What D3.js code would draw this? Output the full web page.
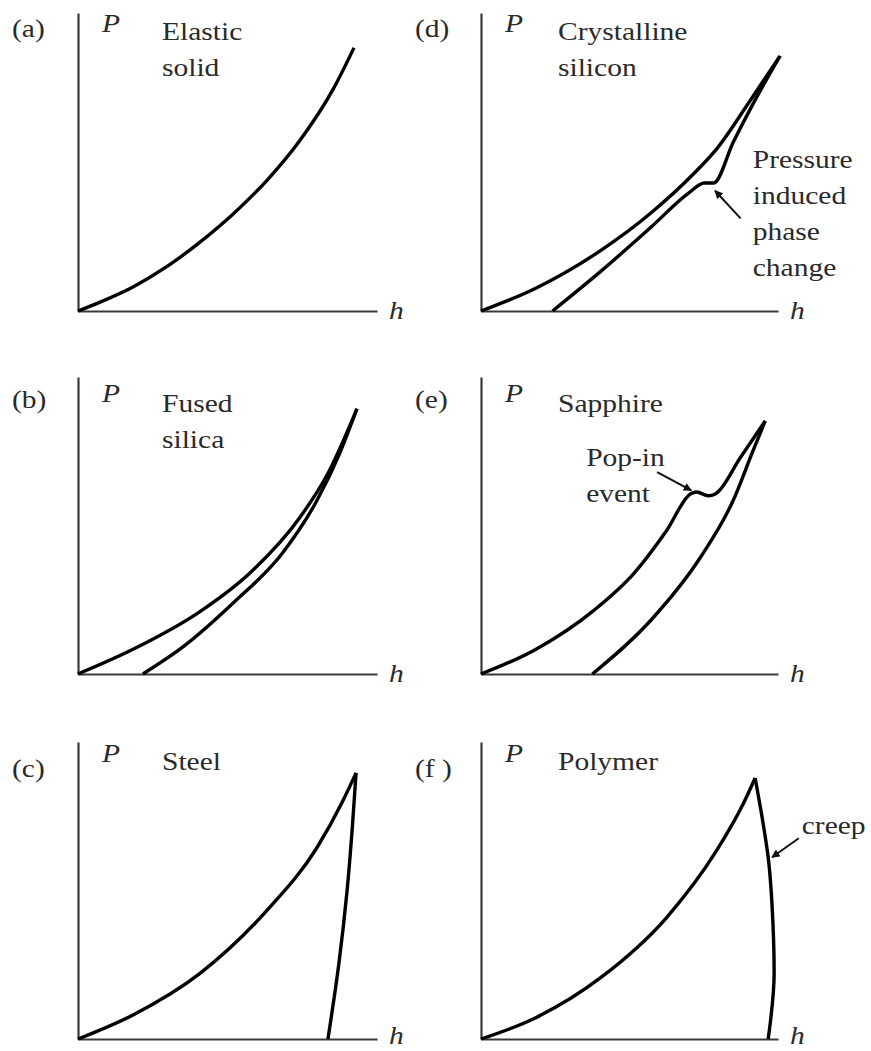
<!DOCTYPE html>
<html>
<head>
<meta charset="utf-8">
<script src="https://cdn.jsdelivr.net/npm/d3@7"></script>
<style>
  html, body { margin: 0; padding: 0; background: #fff; }
  svg { display: block; }
  .lbl { font-family: "Liberation Serif", "Times New Roman", serif; font-size: 26px; fill: #2a2a2a; }
  .it { font-style: italic; }
</style>
</head>
<body>
<svg id="chart" width="871" height="1051"></svg>
<script>
// Schematic load (P) – displacement (h) responses, normalised units (0..1 on both axes).
const panelIds   = ["a", "b", "c", "d", "e", "f"];
const panelTags  = ["(a)", "(b)", "(c)", "(d)", "(e)", "(f )"];
const materials  = [["Elastic", "solid"], ["Fused", "silica"], ["Steel"],
                    ["Crystalline", "silicon"], ["Sapphire"], ["Polymer"]];
const axisLabelY = "P";
const axisLabelX = "h";

// Elastic solid: loading and unloading coincide
const aLoad = [[0,0],[.074,.030],[.184,.081],[.298,.150],[.408,.232],[.518,.326],[.632,.440],[.742,.574],[.853,.746],[.923,.886]];

// Fused silica
const bLoad   = [[0,0],[.184,.083],[.408,.210],[.575,.340],[.742,.527],[.833,.670],[.933,.893]];
const bUnload = [[.217,0],[.351,.091],[.518,.238],[.686,.410],[.799,.584],[.876,.745],[.933,.893]];

// Steel (unloading listed from peak downwards)
const cLoad   = [[0,0],[.184,.081],[.408,.221],[.632,.433],[.799,.644],[.886,.802],[.930,.896]];
const cUnload = [[.930,.896],[.918,.720],[.900,.500],[.872,.250],[.836,0]];

// Crystalline silicon, with the phase-change step on unloading
const dLoad   = [[0,0],[.181,.075],[.405,.205],[.572,.330],[.716,.462],[.793,.545],[.906,.708],[1.007,.859]];
const dUnload = [[.241,0],[.405,.135],[.572,.282],[.700,.398],[.752,.431],[.783,.431],[.850,.570],[.920,.705],[1.007,.859]];

// Sapphire, with a pop-in plateau on loading
const eLoad   = [[0,0],[.181,.081],[.381,.215],[.515,.339],[.625,.483],[.706,.607],[.726,.613],[.765,.600],[.790,.607],[.873,.728],[.957,.852]];
const eUnload = [[.375,0],[.572,.181],[.739,.393],[.849,.584],[.916,.752],[.957,.852]];

// Polymer, creep at peak load (unloading listed from peak downwards)
const fLoad   = [[0,0],[.181,.070],[.405,.208],[.625,.409],[.793,.634],[.883,.792],[.923,.879]];
const fUnload = [[.923,.879],[.950,.725],[.967,.611],[.983,.389],[.987,.221],[.967,0]];

const loads   = [aLoad, bLoad, cLoad, dLoad, eLoad, fLoad];
const unloads = [null, bUnload, cUnload, dUnload, eUnload, fUnload];
// steep unloading branches are smoothed along P rather than h
const steepUnload = [false, false, true, false, false, true];

// Annotations: text lines and arrow [from, to] in data units of their panel
const notes = [
  null, null, null,
  { lines: ["Pressure", "induced", "phase", "change"], at: [.915, .480], arrow: [[.874, .312], [.788, .405]] },
  { lines: ["Pop-in", "event"], at: [.354, .700], arrow: [[.593, .680], [.708, .618]] },
  { lines: ["creep"], at: [1.08, .690], arrow: [[1.070, .676], [.980, .612]] }
];

// Panel layout
const colX   = [78, 481];
const colW   = [299, 297];
const rowY   = [311, 674, 1039];
const rowTop = [13, 377, 742];

const svg = d3.select("#chart");
svg.append("rect").attr("width", 871).attr("height", 1051).attr("fill", "#fff");

svg.append("defs").append("marker")
  .attr("id", "arrowhead").attr("viewBox", "0 0 10 10")
  .attr("refX", 9).attr("refY", 5)
  .attr("markerWidth", 4.2).attr("markerHeight", 4.2)
  .attr("orient", "auto")
  .append("path").attr("d", "M0,0 L10,5 L0,10 z").attr("fill", "#111");

const SX = 1.135; // horizontal stretch of the lettering

function label(g, x, y, text, cls) {
  return g.append("text")
    .attr("class", "lbl" + (cls ? " " + cls : ""))
    .attr("transform", `translate(${x},${y}) scale(${SX},1)`)
    .text(text);
}

panelIds.forEach((id, i) => {
  const col = i < 3 ? 0 : 1;
  const row = i % 3;
  const x0 = colX[col], y0 = rowY[row];
  const x = d3.scaleLinear().domain([0, 1]).range([x0, x0 + colW[col]]);
  const y = d3.scaleLinear().domain([0, 1]).range([y0, y0 - 297]);
  const yAxisScale = d3.scaleLinear().domain([0, 1]).range([y0, rowTop[row]]);

  const g = svg.append("g").attr("class", "panel-" + id);

  // axes as bare lines
  g.append("g").attr("transform", `translate(0,${y0})`)
    .call(d3.axisBottom(x).ticks(0).tickSizeOuter(0))
    .call(s => s.select(".domain").attr("stroke", "#3a3a3a").attr("stroke-width", 2.2));
  g.append("g").attr("transform", `translate(${x0},0)`)
    .call(d3.axisLeft(yAxisScale).ticks(0).tickSizeOuter(0))
    .call(s => s.select(".domain").attr("stroke", "#3a3a3a").attr("stroke-width", 2.2));

  const lineX = d3.line().x(d => x(d[0])).y(d => y(d[1])).curve(d3.curveMonotoneX);
  const lineY = d3.line().x(d => x(d[0])).y(d => y(d[1])).curve(d3.curveMonotoneY);

  const draw = d => g.append("path").attr("d", d)
    .attr("fill", "none").attr("stroke", "#000")
    .attr("stroke-width", 3.4).attr("stroke-linejoin", "round");

  draw(lineX(loads[i]));
  if (unloads[i]) draw((steepUnload[i] ? lineY : lineX)(unloads[i]));

  // texts
  const top = rowY[row];
  label(g, x0 - 66, top - (row === 0 ? 274 : 266) + (row === 2 ? 4 : 0), panelTags[i]);
  label(g, x0 + 24, top - (row === 0 ? 279 : 272) + (row === 2 ? -5 : 0), axisLabelY, "it");
  materials[i].forEach((t, k) => {
    label(g, x0 + (col === 0 ? 84 : 77), top - (row === 0 ? 271 : 262) + (row === 2 ? -7 : 0) + k * 36, t);
  });
  label(g, x0 + colW[col] + 12, y0 + (row === 2 ? 5 : 8), axisLabelX, "it");

  const n = notes[i];
  if (n) {
    n.lines.forEach((t, k) => label(g, x(n.at[0]), y(n.at[1]) + k * 36, t));
    g.append("line")
      .attr("x1", x(n.arrow[0][0])).attr("y1", y(n.arrow[0][1]))
      .attr("x2", x(n.arrow[1][0])).attr("y2", y(n.arrow[1][1]))
      .attr("stroke", "#111").attr("stroke-width", 2)
      .attr("marker-end", "url(#arrowhead)");
  }
});
</script>
</body>
</html>
